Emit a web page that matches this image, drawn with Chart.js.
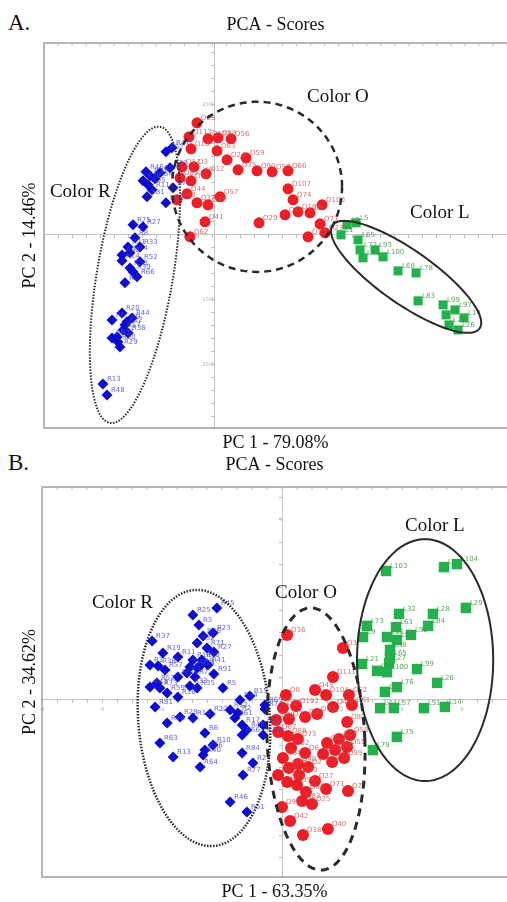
<!DOCTYPE html>
<html>
<head>
<meta charset="utf-8">
<script src="https://cdn.jsdelivr.net/npm/chart.js@4.4.0/dist/chart.umd.min.js"></script>
<style>
  body { margin: 0; background: #fff; overflow: hidden; }
  .tag { position: absolute; left: 8px; font: 23px/1 "Liberation Serif", serif; color: #111; }
  canvas { position: absolute; left: 0; }
</style>
</head>
<body>
<div class="tag" style="top:11px">A.</div>
<div class="tag" style="top:451px">B.</div>
<canvas id="chartA" width="507" height="455" style="top:0"></canvas>
<canvas id="chartB" width="507" height="455" style="top:447px"></canvas>
<script>
// ---- panel A (PC1 79.08%, PC2 14.46%) ----
const aRx = [-1167, -1024, -1071, -1310, -1643, -1548, -1714, -1429, -1595, -1000, -1619, -1167, -1500,
  -1952, -1714, -1905, -2071, -1786, -2214, -2024, -1786, -2214, -1952, -1857, -2143, -2024,
  -2214, -2452, -2095, -1976, -2190, -2333, -2071, -2452, -2262, -2143, -2310, -2667, -2571];
const aRy = [1277, 1338, 1031, 954, 969, 908, 831, 862, 769, 723, 585, 492, 692,
  154, 123, -46, -185, -185, -308, -277, -415, -400, -569, -646, -738, -508,
  -1200, -1308, -1338, -1277, -1462, -1569, -1508, -1585, -1723, -1385, -1646, -2292, -2462];
const aRtag = [32, 47, 22, 5, 46, 31, 18, 64, 55, 70, 81, 40, 11,
  75, 27, 8, 21, 33, 60, 24, 52, 14, 39, 66, 2, 58,
  20, 6, 9, 44, 17, 71, 36, 83, 29, 12, 50, 13, 48];

const aOx = [-429, -619, -167, 71, 381, -571, 48, 286, 738, 548, 1000, 1357, 1738, -786, -500,
  -214, -833, -571, -667, -905, -429, -167, 119, -238, -595, 1738, 1857, 1667, 1976, 2262,
  2548, 1048, 2500, 2619, 2214];
const aOy = [1723, 1508, 1477, 1492, 1477, 1323, 1292, 1154, 1185, 1000, 985, 969, 985, 1046, 1046,
  938, 877, 831, 631, 538, 492, 462, 585, 200, -31, 708, 538, 308, 354, 338,
  462, 185, 169, 31, -31];
const aOtag = [69, 113, 102, 88, 56, 18, 63, 24, 59, 35, 90, 52, 66, 17, 3,
  12, 85, 31, 44, 28, 37, 48, 57, 41, 62, 107, 74, 19, 103, 9,
  100, 29, 71, 23, 13];

const aLx = [3143, 3357, 3000, 3405, 3452, 3524, 3810, 4000, 4357, 4786, 4833, 5429, 5500, 5714, 5929, 5571, 5786];
const aLy = [154, 185, 0, -77, -231, -354, -231, -338, -554, -585, -1015, -1077, -1231, -1154, -1277, -1385, -1462];
const aLtag = [3, 5, 1, 65, 72, 49, 93, 100, 68, 78, 83, 99, 4, 97, 14, 28, 26];

// ellipses: centre x, centre y, first half-axis (dx, dy), second half-axis (dx, dy)
const aEllR = [-1905, -615, 595, 2277, 893, -97];
const aEllO = [1000, 738, 2024, 0, 0, 1308];
const aEllL = [4548, -646, 1750, -792, -367, -338];
const aNoteX = [-3929, 2190, 4643];
const aNoteY = [662, 2123, 338];

// ---- panel B (PC1 63.35%, PC2 34.62%) ----
const bRx = [-2.17, -2.97, -2.77, -2.30, -2.63, -4.33, -2.83, -2.50, -2.27, -3.97,
  -3.47, -2.97, -2.67, -4.40, -4.13, -3.90, -3.07, -2.83, -2.73, -2.47,
  -3.17, -3.47, -2.27, -2.90, -4.17, -4.40, -4.07, -3.83, -3.07, -2.83,
  -3.47, -1.97, -1.40, -1.07, -4.23, -1.73, -1.47, -0.57, -3.40, -2.97,
  -2.40, -1.57, -3.83, -1.33, -1.17, -0.63, -1.33, -2.57, -0.63, -4.07,
  -2.57, -2.30, -1.33, -3.63, -2.63, -0.97, -2.73, -1.30, -1.73, -1.17, -0.57];
const bRy = [3.07, 2.83, 2.50, 2.23, 2.13, 1.97, 1.90, 1.73, 1.60, 1.57,
  1.43, 1.33, 1.33, 1.17, 1.13, 1.00, 1.10, 1.07, 1.13, 1.17,
  0.90, 0.77, 0.87, 0.77, 0.57, 0.43, 0.40, 0.23, 0.47, 0.40,
  0.10, 0.40, 0.00, 0.13, -0.23, -0.33, -0.43, -0.30, -0.57, -0.60,
  -0.47, -0.60, -0.77, -0.83, -1.00, -0.83, -1.17, -1.10, -1.17, -1.43,
  -1.67, -1.50, -1.77, -1.90, -1.83, -2.10, -2.23, -2.50, -3.40, -3.73, -0.17];
const bRtag = [45, 25, 3, 23, 26, 37, 32, 71, 27, 19, 11, 16, 30, 1, 38, 57, 4, 34, 8, 41,
  9, 60, 91, 7, 52, 43, 73, 59, 33, 35, 18, 5, 54, 15, 81, 12, 2, 74, 28, 14,
  22, 61, 68, 17, 44, 47, 56, 6, 21, 63, 66, 10, 84, 13, 40, 24, 64, 77, 46, 51, 65];

const bOx = [0.17, 2.03, 1.70, 1.10, 1.47, 2.23, 0.13, 2.33, 1.70, 0.47,
  0.03, 1.17, 0.77, 0.23, -0.20, 2.17, -0.13, 2.27, 0.20, 0.53,
  1.90, 1.50, 0.30, 2.17, 1.77, 1.37, 0.77, 2.07, 0.03, 1.67,
  0.53, 0.23, 0.87, -0.13, 0.57, 1.10, 0.17, 0.50, 0.80, 1.47,
  2.20, 0.67, 0.00, 1.00, 0.27, 0.70, 1.53];
const bOy = [2.17, 1.73, 0.77, 0.33, 0.17, 0.17, 0.17, -0.17, -0.23, -0.20,
  -0.27, -0.47, -0.57, -0.63, -0.67, -0.73, -1.07, -1.17, -1.20, -1.30,
  -1.30, -1.43, -1.60, -1.57, -1.67, -1.80, -1.77, -1.93, -1.93, -2.07,
  -2.13, -2.27, -2.23, -2.50, -2.50, -2.70, -2.73, -2.83, -3.07, -2.97,
  -3.03, -3.37, -3.57, -3.47, -4.03, -4.50, -4.30];
const bOtag = [36, 3, 111, 45, 104, 52, 8, 61, 43, 102, 39, 95, 30, 7, 20, 80, 67, 58, 88, 73,
  14, 22, 92, 55, 60, 70, 6, 99, 64, 18, 48, 75, 2, 33, 90, 27, 11, 54, 86, 71,
  77, 83, 93, 25, 42, 38, 40];

const bLx = [3.47, 5.40, 5.83, 6.13, 3.90, 5.03, 2.83, 3.80, 4.87, 2.70,
  3.50, 3.83, 4.30, 3.60, 3.60, 3.57, 2.67, 3.17, 3.50, 4.50,
  3.83, 3.43, 5.17, 3.27, 3.73, 4.73, 5.43, 3.83, 3.03];
const bLy = [4.30, 4.43, 4.53, 3.07, 2.87, 2.87, 2.47, 2.43, 2.47, 2.10,
  2.10, 2.00, 2.17, 1.67, 1.40, 1.23, 1.20, 0.97, 0.93, 1.03,
  0.43, 0.27, 0.57, -0.27, -0.27, -0.27, -0.23, -1.23, -1.67];
const bLtag = [103, 1, 104, 29, 32, 28, 73, 63, 84, 9, 16, 53, 92, 38, 65, 27, 21, 5, 100, 99,
  76, 91, 26, 44, 57, 31, 14, 75, 79];

const bEllR = [-2.6, -0.6, 2.2, 0, -0.23, 4.27];
const bEllO = [1.13, -1.3, 1.63, 0, -0.17, 4.37];
const bEllL = [4.77, 1.33, 2.27, 0, 0, 4.03];
const bNoteX = [-6.33, -0.23, 4.1];
const bNoteY = [3.23, 3.57, 5.8];

const noteText = ['Color R', 'Color O', 'Color L'];
const serif = '"Liberation Serif", "Times New Roman", serif';

// frame, point tags, ellipses and cluster names
const decor = {
    id: 'decor',
    beforeDatasetsDraw(chart) {
        const { ctx, chartArea: a, scales } = chart;
        ctx.save();
        ctx.strokeStyle = '#9e9e9e';
        ctx.lineWidth = 1.5;
        ctx.beginPath();
        ctx.moveTo(a.right, a.top);
        ctx.lineTo(a.left, a.top);
        ctx.lineTo(a.left, a.bottom);
        ctx.lineTo(a.right, a.bottom);
        ctx.stroke();
        ctx.lineWidth = 1;
        ctx.strokeStyle = '#bbbbbb';
        scales.x.ticks.forEach((t) => {
            const px = scales.x.getPixelForValue(t.value);
            ctx.beginPath();
            ctx.moveTo(px, a.top);
            ctx.lineTo(px, a.top + 3);
            ctx.stroke();
        });
        ctx.restore();
    },
    afterDatasetsDraw(chart, args, opts) {
        const { ctx, scales: { x, y } } = chart;
        ctx.save();
        ctx.font = '7px "DejaVu Sans"';
        ctx.textBaseline = 'bottom';
        chart.data.datasets.forEach((ds, i) => {
            ctx.fillStyle = ds.tagColor;
            chart.getDatasetMeta(i).data.forEach((pt, j) => {
                ctx.fillText(ds.prefix + ds.tags[j], pt.x + 4, pt.y - 1);
            });
        });

        opts.ellipses.forEach((e) => {
            const c = e.c;
            ctx.beginPath();
            for (let k = 0; k <= 160; k++) {
                const t = (k / 160) * Math.PI * 2;
                const px = x.getPixelForValue(c[0] + c[2] * Math.cos(t) + c[4] * Math.sin(t));
                const py = y.getPixelForValue(c[1] + c[3] * Math.cos(t) + c[5] * Math.sin(t));
                if (k === 0) ctx.moveTo(px, py);
                else ctx.lineTo(px, py);
            }
            ctx.setLineDash(e.dash);
            ctx.lineWidth = e.width;
            ctx.strokeStyle = '#2a2a2a';
            ctx.stroke();
        });

        ctx.setLineDash([]);
        ctx.font = '19px ' + serif;
        ctx.fillStyle = '#111';
        ctx.textAlign = 'left';
        ctx.textBaseline = 'middle';
        opts.notesX.forEach((nx, i) => {
            ctx.fillText(noteText[i], x.getPixelForValue(nx), y.getPixelForValue(opts.notesY[i]));
        });
        ctx.restore();
    },
};

const pairs = (xs, ys) => xs.map((v, i) => ({ x: v, y: ys[i] }));

// centred axes should not push the plot area in
const noPadding = (scale) => {
    scale.paddingLeft = 0;
    scale.paddingRight = 0;
    scale.paddingTop = 0;
    scale.paddingBottom = 0;
};

function buildChart(el, p) {
    const isMajor = (v) => {
        const k = v / p.major;
        return Math.abs(k - Math.round(k)) < 0.001 && Math.round(k) !== 0;
    };
    const tickFont = { size: 5, family: '"DejaVu Sans"' };
    const axisTitle = (text, padding) => ({
        display: true,
        text: text,
        color: '#111',
        font: { family: serif, size: 18, lineHeight: 1 },
        padding: padding,
    });

    return new Chart(el, {
        type: 'scatter',
        plugins: [decor],
        data: {
            datasets: [
                {
                    data: pairs(p.rx, p.ry), tags: p.rTag, prefix: 'R',
                    pointStyle: 'rectRot', pointRadius: p.size[0], backgroundColor: '#0d0dcf',
                    borderWidth: 0, tagColor: 'rgba(60,60,210,0.8)',
                },
                {
                    data: pairs(p.ox, p.oy), tags: p.oTag, prefix: 'O',
                    pointStyle: 'circle', pointRadius: p.size[1], backgroundColor: '#ee1e26',
                    borderWidth: 0, tagColor: 'rgba(200,80,80,0.8)',
                },
                {
                    data: pairs(p.lx, p.ly), tags: p.lTag, prefix: 'L',
                    pointStyle: 'rect', pointRadius: p.size[2], backgroundColor: '#23b14d',
                    borderWidth: 0, tagColor: 'rgba(60,150,60,0.85)',
                },
            ],
        },
        options: {
            responsive: false,
            animation: false,
            events: [],
            layout: { padding: p.pad, autoPadding: false },
            plugins: {
                legend: { display: false },
                tooltip: { enabled: false },
                title: {
                    display: true,
                    text: 'PCA - Scores',
                    fullSize: false,
                    color: '#111',
                    font: { family: serif, size: 18, lineHeight: 1, weight: 'normal' },
                    padding: { top: 0, bottom: p.titleGap },
                },
                decor: { ellipses: p.ellipses, notesX: p.notesX, notesY: p.notesY },
            },
            scales: {
                x: {
                    type: 'linear',
                    position: { y: 0 },
                    min: p.xRange[0],
                    max: p.xRange[1],
                    afterFit: noPadding,
                    ticks: {
                        stepSize: p.xStep, autoSkip: false, maxTicksLimit: 300, maxRotation: 0,
                        font: tickFont, color: '#b0b0b0', padding: 4,
                        callback: (v) => (isMajor(v) ? String(Math.round(v * 100) / 100) : ''),
                    },
                    grid: { drawOnChartArea: false, tickLength: 3, color: '#bdbdbd' },
                    border: { color: '#c4c4c4' },
                },
                y: {
                    type: 'linear',
                    position: { x: 0 },
                    min: p.yRange[0],
                    max: p.yRange[1],
                    afterFit: noPadding,
                    ticks: {
                        stepSize: p.yStep, autoSkip: false, maxTicksLimit: 300,
                        font: tickFont, color: '#b0b0b0', padding: 4,
                        callback: (v) => (isMajor(v) ? String(Math.round(v * 100) / 100) : ''),
                    },
                    grid: { drawOnChartArea: false, tickLength: 3, color: '#bdbdbd' },
                    border: { color: '#c4c4c4' },
                },
                xb: {
                    type: 'linear', axis: 'x', position: 'bottom',
                    min: p.xRange[0], max: p.xRange[1],
                    afterFit: noPadding,
                    ticks: { display: false },
                    grid: { display: false, drawTicks: false },
                    border: { display: false },
                    title: axisTitle(p.xTitle, { top: 6, bottom: 0 }),
                },
                yl: {
                    type: 'linear', axis: 'y', position: 'left',
                    min: p.yRange[0], max: p.yRange[1],
                    afterFit: noPadding,
                    ticks: { display: false },
                    grid: { display: false, drawTicks: false },
                    border: { display: false },
                    title: axisTitle(p.yTitle, p.yTitlePad),
                },
            },
        },
    });
}

buildChart(document.getElementById('chartA'), {
    rx: aRx, ry: aRy, rTag: aRtag,
    ox: aOx, oy: aOy, oTag: aOtag,
    lx: aLx, ly: aLy, lTag: aLtag,
    size: [5.5, 5.5, 6.4],
    xRange: [-4070, 6950], yRange: [-2970, 2950],
    xStep: 1000 / 3, yStep: 200, major: 1000,
    xTitle: 'PC 1 - 79.08%', yTitle: 'PC 2 - 14.46%',
    pad: { top: 16, bottom: 3, left: 8, right: 0 },
    titleGap: 9,
    yTitlePad: { top: 13, bottom: 5 },
    ellipses: [
        { c: aEllR, dash: [1.5, 1.5], width: 2 },
        { c: aEllO, dash: [7, 5], width: 2.5 },
        { c: aEllL, dash: [], width: 2 },
    ],
    notesX: aNoteX, notesY: aNoteY,
});

buildChart(document.getElementById('chartB'), {
    rx: bRx, ry: bRy, rTag: bRtag,
    ox: bOx, oy: bOy, oTag: bOtag,
    lx: bLx, ly: bLy, lTag: bLtag,
    size: [5.5, 6, 7.4],
    xRange: [-8, 7.5], yRange: [-5.9, 7.1],
    xStep: 0.5, yStep: 0.75, major: 2,
    xTitle: 'PC 1 - 63.35%', yTitle: 'PC 2 - 34.62%',
    pad: { top: 9, bottom: 1, left: 6, right: 0 },
    titleGap: 13,
    yTitlePad: { top: 15, bottom: 3 },
    ellipses: [
        { c: bEllR, dash: [1.5, 1.5], width: 2.5 },
        { c: bEllO, dash: [8, 6], width: 3 },
        { c: bEllL, dash: [], width: 2 },
    ],
    notesX: bNoteX, notesY: bNoteY,
});
</script>
</body>
</html>
